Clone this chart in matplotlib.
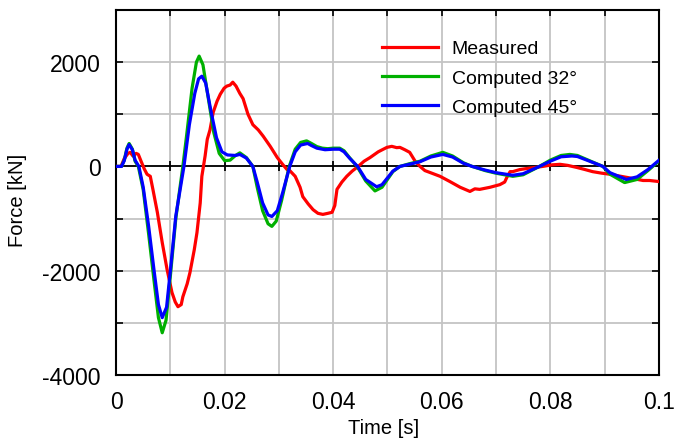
import numpy as np
import matplotlib.pyplot as plt

plt.rcParams['font.family'] = ['Liberation Sans', 'DejaVu Sans']
plt.rcParams['axes.unicode_minus'] = False

# Measured force
t_meas = [0, 0.0009, 0.0015, 0.0022, 0.0026, 0.0031, 0.0037, 0.0041, 0.0046, 0.0052,
          0.0057, 0.0063, 0.0068, 0.0076, 0.0085, 0.0094, 0.0103, 0.0109, 0.0114, 0.012,
          0.0123, 0.0131, 0.0136, 0.0144, 0.0149, 0.0155, 0.0158, 0.0164, 0.0168, 0.0173,
          0.0179, 0.0186, 0.0192, 0.0199, 0.0204, 0.021, 0.0215, 0.0221, 0.0228, 0.0234,
          0.0243, 0.0252, 0.0262, 0.0271, 0.0284, 0.0297, 0.0306, 0.0315, 0.032, 0.033,
          0.0339, 0.0344, 0.0354, 0.0363, 0.0372, 0.0381, 0.039, 0.0398, 0.0403, 0.0407,
          0.0416, 0.0425, 0.0435, 0.0446, 0.0457, 0.0468, 0.0483, 0.0499, 0.0508, 0.0517,
          0.0523, 0.0532, 0.0541, 0.0551, 0.056, 0.0569, 0.0578, 0.0597, 0.0615, 0.0634,
          0.0652, 0.0661, 0.067, 0.0689, 0.0707, 0.0716, 0.072, 0.0726, 0.0731, 0.0744,
          0.0757, 0.0772, 0.0786, 0.0803, 0.0818, 0.0832, 0.0849, 0.0864, 0.0878, 0.0895,
          0.091, 0.0925, 0.0941, 0.0956, 0.0971, 0.0983, 0.1]
f_meas = [0, 0, 150, 250, 270, 200, 250, 230, 100, -50,
          -150, -190, -450, -880, -1460, -1980, -2420, -2600, -2690, -2650,
          -2500, -2250, -2040, -1600, -1270, -700, -190, 200, 520, 700,
          1040, 1250, 1385, 1500, 1540, 1560, 1615, 1540, 1400, 1300,
          1000, 800, 700, 580, 385, 170, 50, -60, -80, -190,
          -400, -580, -720, -830, -900, -920, -900, -880, -750, -440,
          -300, -190, -90, 0, 100, 170, 280, 365, 385, 360,
          365, 320, 270, 100, 0, -80, -115, -190, -290, -400,
          -480, -430, -440, -400, -350, -300, -210, -100, -100, -60,
          -40, -20, 0, 30, 40, 20, -20, -60, -100, -130,
          -150, -180, -210, -240, -270, -270, -290]

# Computed 32 deg
t_c32 = [0, 0.001, 0.0015, 0.002, 0.0024, 0.003, 0.0035, 0.0041, 0.005, 0.006,
         0.007, 0.0078, 0.0085, 0.0092, 0.010, 0.011, 0.0123, 0.013, 0.014, 0.0148,
         0.0153, 0.016, 0.017, 0.018, 0.019, 0.020, 0.021, 0.022, 0.0228, 0.024,
         0.0252, 0.026, 0.027, 0.028, 0.0287, 0.0295, 0.0305, 0.0319, 0.033, 0.034,
         0.0351, 0.036, 0.037, 0.038, 0.039, 0.040, 0.0412, 0.042, 0.043, 0.0444,
         0.046, 0.0477, 0.049, 0.050, 0.051, 0.0523, 0.054, 0.056, 0.058, 0.0602,
         0.062, 0.064, 0.0656, 0.068, 0.070, 0.0731, 0.075, 0.0765, 0.078, 0.080,
         0.082, 0.0836, 0.085, 0.087, 0.0897, 0.091, 0.0937, 0.096, 0.098, 0.1]
f_c32 = [0, 0, 120, 350, 440, 330, 100, 0, -450, -1300,
         -2200, -2900, -3190, -2950, -2100, -1000, 0, 600, 1500, 2000,
         2115, 1950, 1300, 650, 250, 110, 120, 210, 260, 170,
         0, -400, -850, -1100, -1150, -1050, -650, 0, 330, 460,
         490, 440, 380, 350, 340, 350, 350, 300, 170, 0,
         -280, -470, -400, -250, -100, 0, 50, 100, 200, 270,
         200, 70, 0, -80, -130, -190, -160, -80, 0, 120,
         210, 230, 210, 120, 0, -150, -310, -250, -80, 100]

# Computed 45 deg
t_c45 = [0, 0.001, 0.0015, 0.002, 0.0024, 0.003, 0.0035, 0.0042, 0.005, 0.006,
         0.007, 0.0078, 0.0085, 0.0093, 0.010, 0.011, 0.0125, 0.0135, 0.0145, 0.0152,
         0.0158, 0.0165, 0.0175, 0.0185, 0.0195, 0.0205, 0.022, 0.0228, 0.024, 0.0252,
         0.026, 0.027, 0.028, 0.0287, 0.0297, 0.0307, 0.032, 0.033, 0.034, 0.0353,
         0.036, 0.037, 0.0385, 0.040, 0.0412, 0.042, 0.043, 0.0445, 0.046, 0.048,
         0.049, 0.050, 0.051, 0.0523, 0.054, 0.056, 0.058, 0.0602, 0.062, 0.064,
         0.0656, 0.068, 0.070, 0.0731, 0.075, 0.0765, 0.078, 0.080, 0.082, 0.084,
         0.085, 0.087, 0.0897, 0.091, 0.094, 0.096, 0.098, 0.1]
f_c45 = [0, 0, 110, 330, 420, 320, 120, 0, -400, -1150,
         -2000, -2650, -2900, -2700, -2000, -950, 0, 800, 1400, 1680,
         1730, 1600, 1050, 550, 280, 220, 210, 230, 160, 0,
         -300, -700, -930, -960, -850, -500, 0, 280, 410, 440,
         400, 350, 320, 330, 330, 280, 160, 0, -250, -390,
         -350, -220, -90, 0, 40, 90, 180, 230, 180, 60,
         0, -70, -120, -170, -140, -70, 0, 100, 185, 200,
         190, 110, 0, -120, -250, -200, -60, 115]

fig = plt.figure(figsize=(6.75, 4.39), dpi=100)
ax = fig.add_axes([0.172, 0.1435, 0.804, 0.8315])

xt = np.arange(0, 0.1001, 0.01)
ax.axhline(0, color='black', lw=1.3, zorder=2)
ax.plot(xt, np.zeros_like(xt), ls='none', marker='|', ms=7, mew=1.3, color='black', zorder=2)

ax.plot(t_meas, f_meas, color='#ff0000', lw=2.3, label='Measured', zorder=3)
ax.plot(t_c32, f_c32, color='#00b000', lw=2.3, label='Computed 32°', zorder=4)
ax.plot(t_c45, f_c45, color='#0000ff', lw=2.3, label='Computed 45°', zorder=5)

ax.set_xlim(0, 0.1)
ax.set_ylim(-4000, 3000)
ax.set_xticks([0, 0.02, 0.04, 0.06, 0.08, 0.1])
ax.set_xticklabels(['0', '0.02', '0.04', '0.06', '0.08', '0.1'])
ax.set_xticks(xt, minor=True)
ax.set_yticks([-4000, -2000, 0, 2000])
ax.set_yticks(np.arange(-4000, 3001, 1000), minor=True)
ax.grid(True, which='both', color='#c4c4c4', lw=1.3, zorder=0)
ax.tick_params(which='both', direction='in', top=True, right=True, bottom=False,
               length=4, width=1.2, labelsize=16.5, pad=11)
ax.tick_params(axis='y', which='both', length=5)
for sp in ax.spines.values():
    sp.set_linewidth(1.5)

ax.set_xlabel('Time [s]', fontsize=14.5)
ax.xaxis.set_label_coords(0.492, -0.118)
ax.set_ylabel('Force [kN]', fontsize=14.5)
ax.yaxis.set_label_coords(-0.164, 0.48)

ax.legend(loc='upper left', bbox_to_anchor=(0.457, 0.966), frameon=False, fontsize=14,
          handlelength=2.9, labelspacing=0.6, handletextpad=0.7)

fig.savefig('out.png', dpi=100)
